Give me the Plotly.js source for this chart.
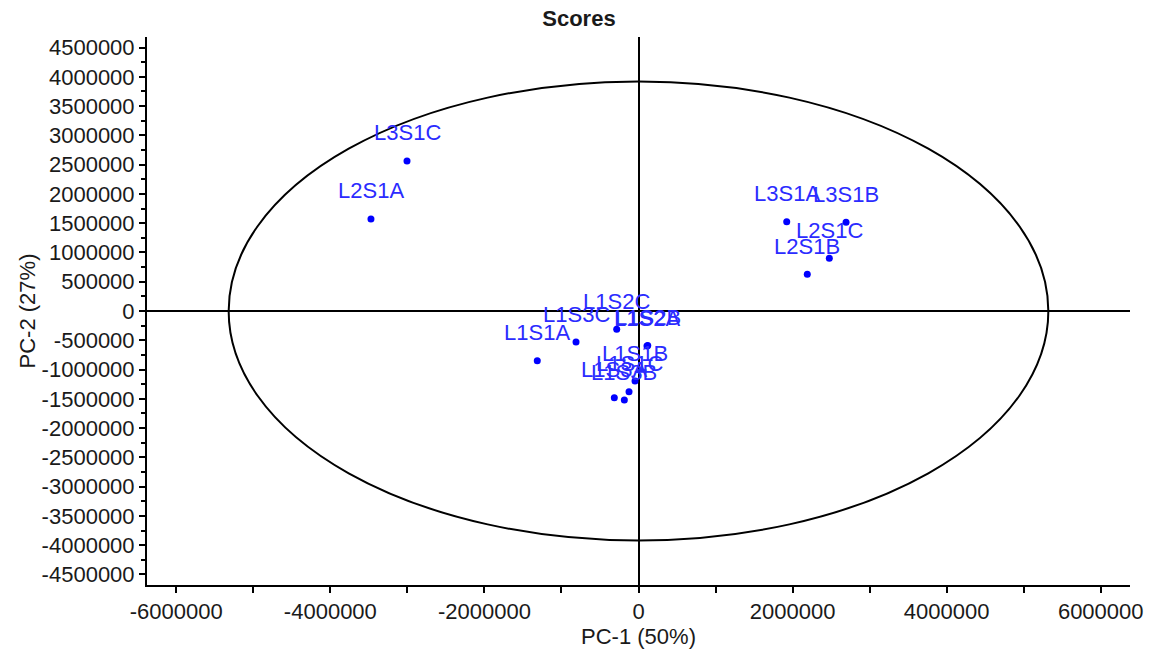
<!DOCTYPE html>
<html>
<head>
<meta charset="utf-8">
<script src="https://cdn.plot.ly/plotly-3.0.1.min.js"></script>
<style>html,body{margin:0;padding:0;background:#fff;}#chart{width:1151px;height:652px;}</style>
</head>
<body>
<div id="chart"></div>
<script>
// Sample names and PCA scores (PC-1, PC-2)
const sampleNames = ['L3S1C','L2S1A','L3S1A','L3S1B','L2S1C','L2S1B','L1S2C','L1S3C','L1S1A','L1S2B','L1S2A','L1S1B','L1S1C','L1S3A','L1S3B'];
const pc1Scores = [-3005000,-3473000,1924000,2694000,2477000,2191000,-283000,-811000,-1314000,120000,110000,-45000,-123000,-314000,-184000];
const pc2Scores = [2564000,1573000,1526000,1516000,901000,627000,-313000,-530000,-850000,-588000,-598000,-1197000,-1379000,-1482000,-1521000];

// Hotelling ellipse semi-axes
const ellipseRadiusX = [5320000];
const ellipseRadiusY = [3920000];

// Tick labels
const xTickVals = [-6000000,-4000000,-2000000,0,2000000,4000000,6000000];
const xTickText = ['-6000000','-4000000','-2000000','0','2000000','4000000','6000000'];
const yTickVals = [4500000,4000000,3500000,3000000,2500000,2000000,1500000,1000000,500000,0,-500000,-1000000,-1500000,-2000000,-2500000,-3000000,-3500000,-4000000,-4500000];
const yTickText = ['4500000','4000000','3500000','3000000','2500000','2000000','1500000','1000000','500000','0','-500000','-1000000','-1500000','-2000000','-2500000','-3000000','-3500000','-4000000','-4500000'];

const FONT = 'Liberation Sans, Arial, sans-serif';
const TXT = '#1a1a1a';

const trace = {
  type: 'scatter',
  mode: 'markers',
  x: pc1Scores,
  y: pc2Scores,
  text: sampleNames,
  marker: {size: 7, color: '#0000ff'},
  hoverinfo: 'text'
};

// sample labels, centred above each point
const labelAnnotations = sampleNames.map((name, i) => ({
  x: pc1Scores[i], y: pc2Scores[i], xref: 'x', yref: 'y',
  text: name, showarrow: false,
  xanchor: 'center', yanchor: 'middle', yshift: 28,
  font: {family: FONT, size: 22, color: '#2b2bff'}
}));

const axisCommon = {
  showline: true, linecolor: '#000', linewidth: 2,
  ticks: 'outside', tickcolor: '#000', tickwidth: 2, ticklen: 6,
  showgrid: false,
  zeroline: true, zerolinecolor: '#000', zerolinewidth: 2,
  tickfont: {family: FONT, size: 22, color: TXT},
  tickmode: 'array',
  mirror: false
};

const layout = {
  width: 1151, height: 652,
  margin: {l: 147, r: 21, t: 37, b: 67},
  paper_bgcolor: '#fff', plot_bgcolor: '#fff',
  showlegend: false,
  title: {text: '<b>Scores</b>', font: {family: FONT, size: 22, color: TXT}, x: 0.503, xref: 'container', xanchor: 'center', y: 0.972, yref: 'container', yanchor: 'middle'},
  xaxis: Object.assign({}, axisCommon, {
    range: [-6380000, 6380000],
    tickvals: xTickVals, ticktext: xTickText,
    minor: {tickmode: 'linear', tick0: 0, dtick: 1000000, ticks: 'outside', ticklen: 6, tickwidth: 2, tickcolor: '#000'},
    title: {text: 'PC-1 (50%)', font: {family: FONT, size: 22, color: TXT}, standoff: 4}
  }),
  yaxis: Object.assign({}, axisCommon, {
    range: [-4680000, 4680000],
    tickvals: yTickVals, ticktext: yTickText,
    minor: {tickmode: 'linear', tick0: 0, dtick: 250000, ticks: 'outside', ticklen: 4, tickwidth: 2, tickcolor: '#000'},
    title: {text: 'PC-2 (27%)', font: {family: FONT, size: 22, color: TXT}, standoff: 0}
  }),
  annotations: labelAnnotations,
  shapes: [{
    type: 'circle', xref: 'x', yref: 'y', layer: 'below',
    x0: -ellipseRadiusX[0], x1: ellipseRadiusX[0],
    y0: -ellipseRadiusY[0], y1: ellipseRadiusY[0],
    line: {color: '#000', width: 2}
  }]
};

Plotly.newPlot('chart', [trace], layout, {displayModeBar: false, staticPlot: true});
</script>
</body>
</html>
